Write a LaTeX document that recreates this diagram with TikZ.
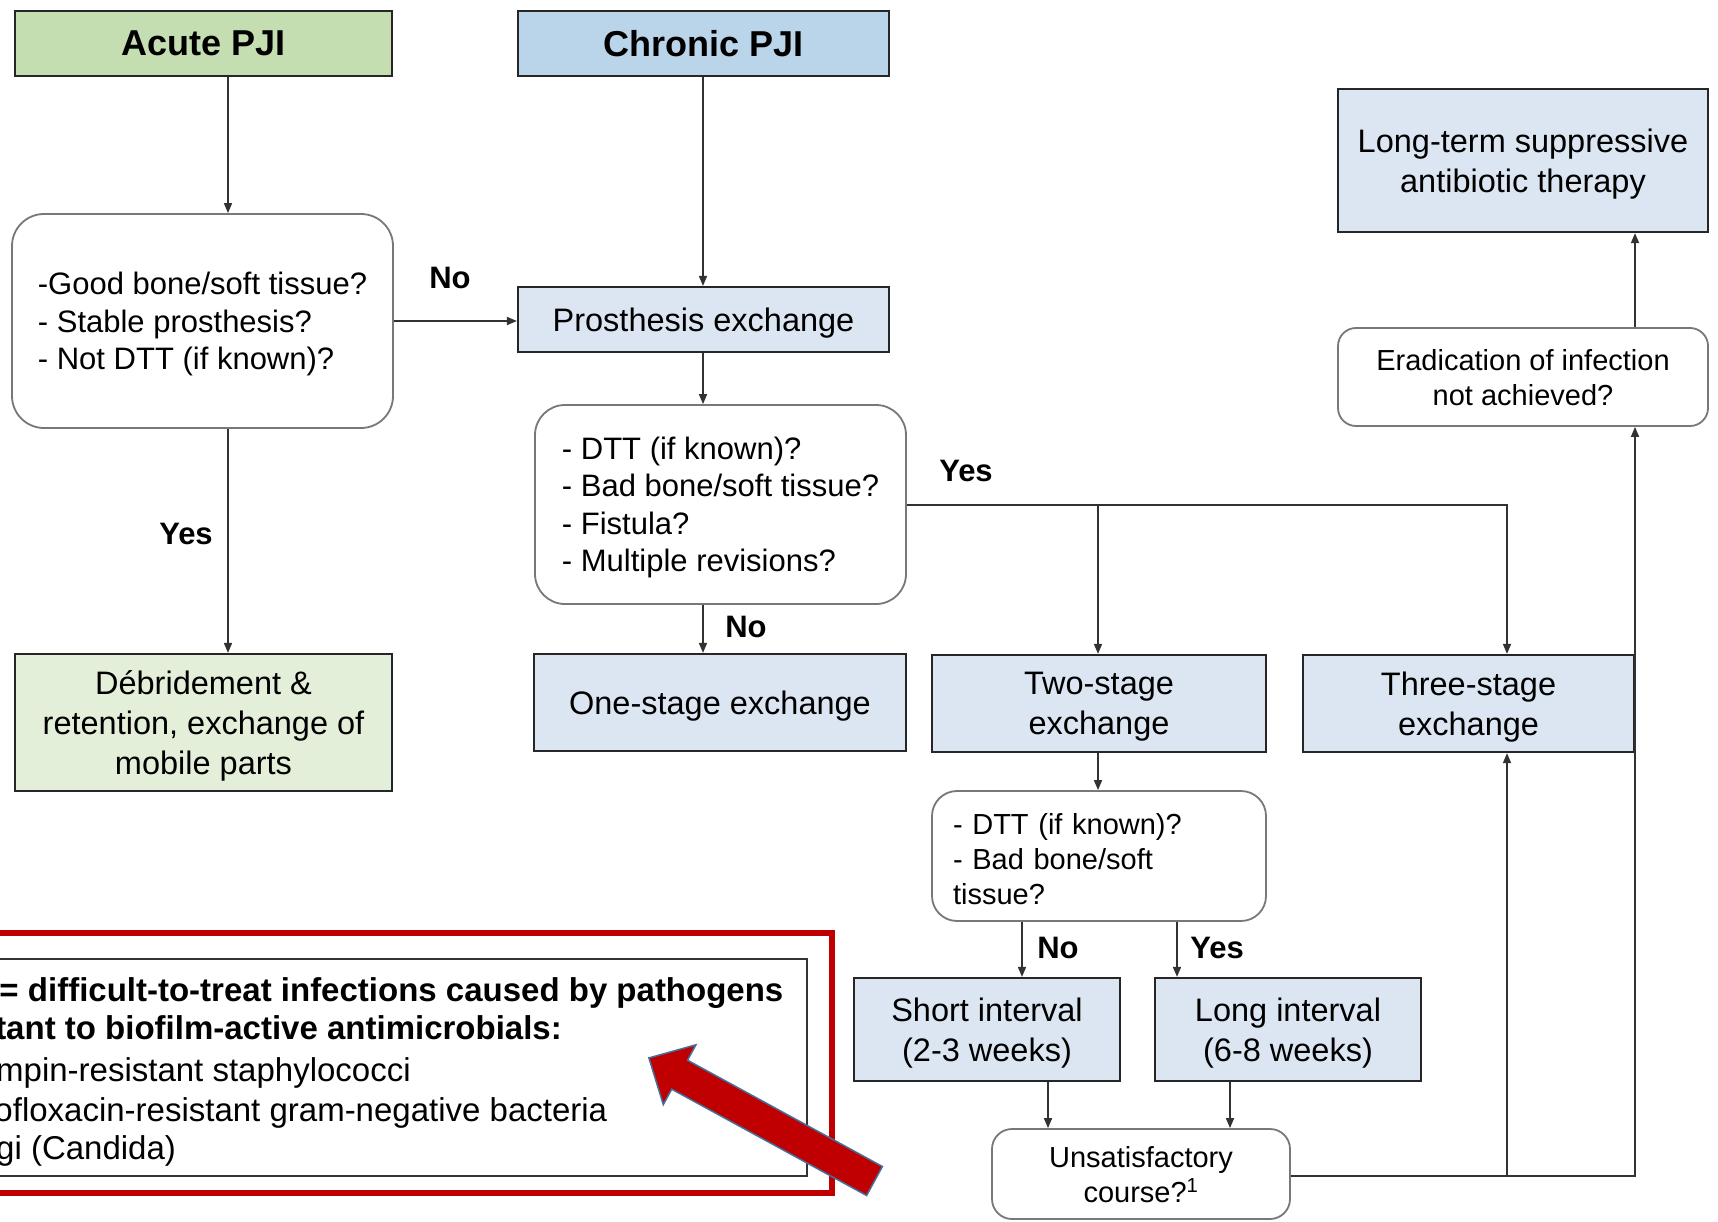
\documentclass[tikz,border=0pt]{standalone}
\usepackage{fontspec}
\setmainfont{Liberation Sans}
\usetikzlibrary{arrows.meta}
\definecolor{ghead}{RGB}{196,222,178}
\definecolor{gbox}{RGB}{228,239,218}
\definecolor{bhead}{RGB}{186,212,234}
\definecolor{bbox}{RGB}{220,230,242}
\definecolor{lnc}{RGB}{50,50,50}
\definecolor{qb}{RGB}{120,120,120}
\definecolor{redc}{RGB}{192,0,0}
\definecolor{arrowedge}{RGB}{65,113,156}
\newcommand\hdfont{\fontsize{36}{42}\selectfont\bfseries}
\newcommand\txfont{\fontsize{32.5}{40}\selectfont}
\newcommand\qqfont{\fontsize{31}{37.5}\selectfont}
\newcommand\smfont{\fontsize{29}{35}\selectfont}
\newcommand\lbfont{\fontsize{31}{36}\selectfont\bfseries}
\newcommand\ntfont{\fontsize{33}{39}\selectfont}
\begin{document}
\begin{tikzpicture}[x=1pt,y=-1pt,
  sq/.style={draw=black!85, line width=2.2pt, inner sep=0pt, align=center},
  rq/.style={draw=qb, line width=1.8pt, fill=white, inner sep=0pt},
  arr/.style={draw=lnc, line width=1.6pt, -{Triangle[length=10pt,width=8pt]}},
  lbl/.style={font=\lbfont, inner sep=0pt},
  note/.style={anchor=base west, inner sep=0pt, font=\ntfont}]
\useasboundingbox (0,0) rectangle (1718,1222);
\clip (0,0) rectangle (1718,1222);
\fill[white] (0,0) rectangle (1718,1222);

% column / row helper coordinates
\coordinate (xa) at (228,0);
\coordinate (xc) at (703,0);
\coordinate (xtwo) at (1098,0);
\coordinate (xthree) at (1507,0);
\coordinate (xr) at (1635,0);
\coordinate (xs) at (1022,0);
\coordinate (xl) at (1177,0);
\coordinate (xs2) at (1048,0);
\coordinate (xl2) at (1230,0);
\coordinate (yno) at (0,321);
\coordinate (yyes) at (0,505);
\coordinate (yun) at (0,1176);

% boxes
\node[sq, fill=ghead, minimum width=377pt, minimum height=65pt, font=\hdfont, text depth=-2pt] (acute) at (203.5,43.5) {Acute PJI};
\node[sq, fill=bhead, minimum width=371pt, minimum height=65pt, font=\hdfont, text depth=-2pt] (chronic) at (703.5,43.5) {Chronic PJI};
\node[rq, rounded corners=32pt, minimum width=381pt, minimum height=214pt, align=left, font=\qqfont, text depth=-3.5pt] (q1) at (202.5,321)
  {-Good bone/soft tissue?\\- Stable prosthesis?\\- Not DTT (if known)?};
\node[sq, fill=bbox, minimum width=371pt, minimum height=65pt, font=\txfont, text depth=-6pt] (prosth) at (703.5,319.5) {Prosthesis exchange};
\node[rq, rounded corners=30pt, minimum width=371pt, minimum height=199pt, align=left, font=\qqfont, text depth=-4.5pt] (q2) at (720.5,504.5)
  {- DTT (if known)?\\- Bad bone/soft tissue?\\- Fistula?\\- Multiple revisions?};
\node[sq, fill=gbox, minimum width=377pt, minimum height=137pt, font=\txfont, text depth=-4.2pt] (debr) at (203.5,722.5)
  {Débridement \&\\retention, exchange of\\mobile parts};
\node[sq, fill=bbox, minimum width=372pt, minimum height=97pt, font=\txfont, text depth=-2.5pt] (one) at (720,702.5) {One-stage exchange};
\node[sq, fill=bbox, minimum width=334pt, minimum height=97pt, font=\txfont, text depth=-4.2pt] (two) at (1099,703.5) {Two-stage\\exchange};
\node[sq, fill=bbox, minimum width=331pt, minimum height=97pt, font=\txfont, text depth=-4.2pt] (three) at (1468.5,703.5) {Three-stage\\exchange};
\node[sq, fill=bbox, minimum width=370pt, minimum height=143pt, font=\txfont, text depth=-4.2pt] (longterm) at (1523,160.5)
  {Long-term suppressive\\antibiotic therapy};
\node[rq, rounded corners=18pt, minimum width=370pt, minimum height=98pt, align=center, font=\smfont, text depth=-4.4pt] (erad) at (1523,377)
  {Eradication of infection\\not achieved?};
\node[rq, rounded corners=25pt, minimum width=334pt, minimum height=130pt, text width=292pt, align=left, font=\smfont, text height=27.8pt] (q3) at (1099,856)
  {- DTT (if known)?\\- Bad bone/soft\\tissue?};
\node[sq, fill=bbox, minimum width=266pt, minimum height=103pt, font=\txfont, text depth=-6.2pt] (short) at (987,1029.5) {Short interval\\(2-3 weeks)};
\node[sq, fill=bbox, minimum width=266pt, minimum height=103pt, font=\txfont, text depth=-6.2pt] (long) at (1288,1029.5) {Long interval\\(6-8 weeks)};
\node[rq, rounded corners=20pt, minimum width=298pt, minimum height=90pt, align=center, font=\smfont, text depth=-8.5pt] (unsat) at (1141,1174)
  {Unsatisfactory\\course?\textsuperscript{1}};

% connectors
\draw[arr] (acute.south -| xa) -- (q1.north -| xa);
\draw[arr] (chronic.south -| xc) -- (prosth.north -| xc);
\draw[arr] (q1.east |- yno) -- (prosth.west |- yno);
\draw[arr] (q1.south -| xa) -- (debr.north -| xa);
\draw[arr] (prosth.south -| xc) -- (q2.north -| xc);
\draw[arr] (q2.south -| xc) -- (one.north -| xc);
\draw[arr] (q2.east |- yyes) -| (three.north -| xthree);
\draw[arr] (xtwo |- yyes) -- (two.north -| xtwo);
\draw[arr] (two.south -| xtwo) -- (q3.north -| xtwo);
\draw[arr] (q3.south -| xs) -- (short.north -| xs);
\draw[arr] (q3.south -| xl) -- (long.north -| xl);
\draw[arr] (short.south -| xs2) -- (unsat.north -| xs2);
\draw[arr] (long.south -| xl2) -- (unsat.north -| xl2);
\draw[arr] (unsat.east |- yun) -| (three.south -| xthree);
\draw[arr] (unsat.east |- yun) -| (erad.south -| xr);
\draw[arr] (erad.north -| xr) -- (longterm.south -| xr);

% labels
\node[lbl] (lno1) at (450,278) {No};
\node[lbl] (lyes1) at (186,534) {Yes};
\node[lbl] (lyes2) at (966,471) {Yes};
\node[lbl] (lno2) at (746,627) {No};
\node[lbl] (lno3) at (1058,948) {No};
\node[lbl] (lyes3) at (1217,948) {Yes};

% DTT note box (its left part lies outside the picture, as in the reference)
\draw[redc, line width=6pt] (-40,933) rectangle (832,1193);
\draw[black!80, line width=1.5pt, fill=white] (-40,959) rectangle (807,1176);
\node[note] (n1) at (-74,1001) {\bfseries DTT = difficult-to-treat infections caused by pathogens};
\node[note] (n2) at (-82,1039) {\bfseries resistant to biofilm-active antimicrobials:};
\node[note] (n3) at (-70,1081) {- rifampin-resistant staphylococci};
\node[note] (n4) at (-79,1121) {- ciprofloxacin-resistant gram-negative bacteria};
\node[note] (n5) at (-70,1159) {- fungi (Candida)};

% red block arrow
\filldraw[fill=redc, draw=arrowedge, line width=1.5pt, line join=miter]
  (882.4,1166.5) -- (687.5,1060.2) -- (695.9,1044.8) -- (648.9,1057.9)
  -- (663.3,1104.6) -- (671.7,1089.2) -- (866.6,1195.5) -- cycle;
\end{tikzpicture}
\end{document}
